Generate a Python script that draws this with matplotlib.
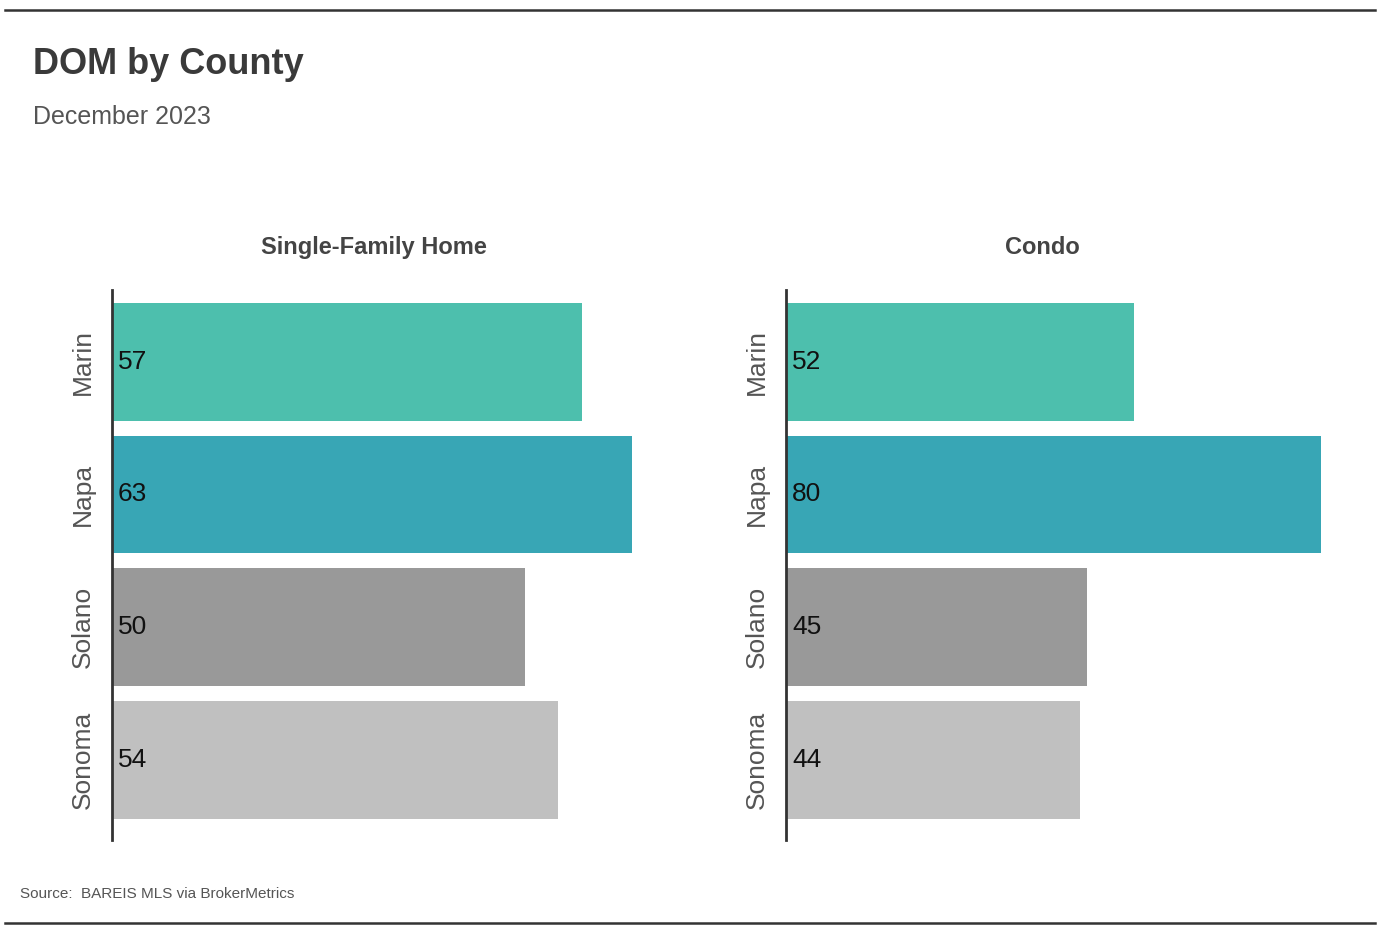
import matplotlib
matplotlib.use('Agg')
import matplotlib.pyplot as plt
from matplotlib.lines import Line2D

plt.rcParams['font.family'] = ['Liberation Sans', 'DejaVu Sans']

counties = ['Marin', 'Napa', 'Solano', 'Sonoma']
sfh_dom = [57, 63, 50, 54]
condo_dom = [52, 80, 45, 44]
bar_colors = ['#4dbfad', '#38a6b5', '#999999', '#c0c0c0']

W, H = 1390, 940
fig = plt.figure(figsize=(W / 100, H / 100), dpi=100)

def px_box(x0, y0, x1, y1):
    # pixel box (top-left origin) -> figure fraction rect
    return [x0 / W, 1 - y1 / H, (x1 - x0) / W, (y1 - y0) / H]

def draw_panel(rect, values, xmax):
    ax = fig.add_axes(rect)
    pos = list(range(len(values)))
    ax.barh(pos, values, height=0.89, color=bar_colors)
    ax.set_ylim(3.607, -0.543)
    ax.set_xlim(0, xmax)
    for p, v in zip(pos, values):
        ax.text(xmax * 6 / 548, p, str(v), va='center', ha='left',
                fontsize=19, color='#111111')
    ax.set_yticks(pos)
    ax.set_yticklabels(counties, rotation=90, va='center', fontsize=19, color='#555555')
    ax.tick_params(axis='y', length=0, pad=12)
    ax.set_xticks([])
    for s in ['top', 'right', 'bottom']:
        ax.spines[s].set_visible(False)
    ax.spines['left'].set_color('#333333')
    ax.spines['left'].set_linewidth(2)
    return ax

draw_panel(px_box(112, 290, 660, 840), sfh_dom, 548 / 8.25)
draw_panel(px_box(786, 290, 1340, 840), condo_dom, 554 / 6.69)

fig.text(374 / W, 1 - 248 / H, 'Single-Family Home', ha='center', va='center',
         fontsize=17, fontweight='bold', color='#444444')
fig.text(1042 / W, 1 - 248 / H, 'Condo', ha='center', va='center',
         fontsize=17, fontweight='bold', color='#444444')

fig.text(33 / W, 1 - 65 / H, 'DOM by County', ha='left', va='center',
         fontsize=26, fontweight='bold', color='#3a3a3a')
fig.text(33 / W, 1 - 117 / H, 'December 2023', ha='left', va='center',
         fontsize=18, color='#555555')
fig.text(20 / W, 1 - 894 / H, 'Source:  BAREIS MLS via BrokerMetrics', ha='left', va='center',
         fontsize=11, color='#555555')

fig.add_artist(Line2D([5 / W, 1375 / W], [1 - 10 / H, 1 - 10 / H], color='#333333', lw=1.8))
fig.add_artist(Line2D([5 / W, 1375 / W], [1 - 923 / H, 1 - 923 / H], color='#333333', lw=1.8))

fig.savefig('out.png', dpi=100, facecolor='white')
